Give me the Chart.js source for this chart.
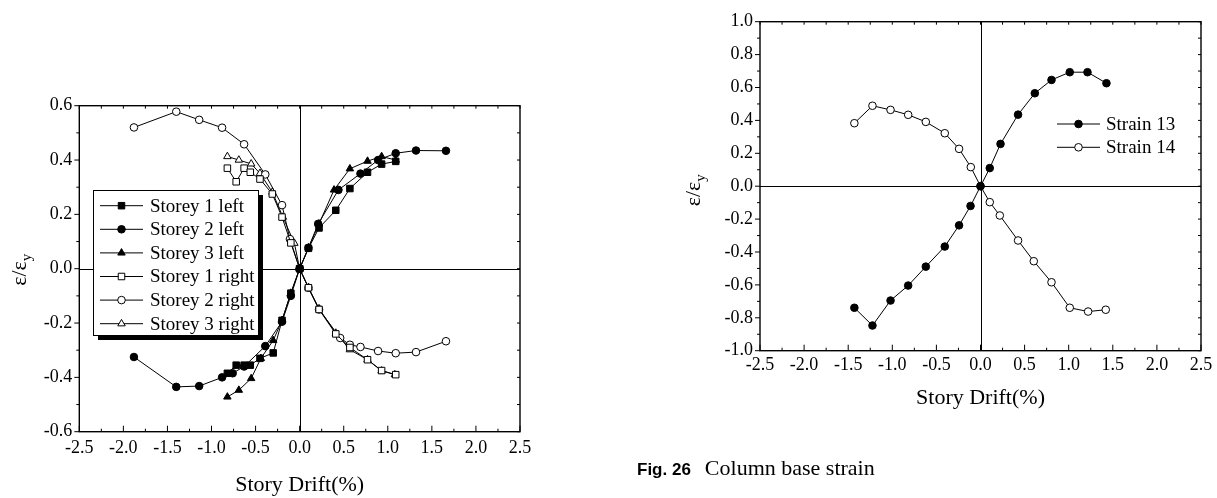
<!DOCTYPE html>
<html>
<head>
<meta charset="utf-8">
<script src="https://cdn.jsdelivr.net/npm/chart.js@4.4.1/dist/chart.umd.min.js"></script>
<style>
    body { margin: 0; background: #fff; width: 1217px; height: 498px; overflow: hidden; position: relative; }
    #storeyWrap { position: absolute; left: 0; top: 0; }
    #baseWrap { position: absolute; left: 640px; top: 0; }
    .legenda-fig { position: absolute; left: 637px; top: 456px; line-height: 24px; white-space: nowrap; color: #000; }
    .legenda-fig b { font-family: "Liberation Sans", sans-serif; font-size: 17px; margin-right: 14px; }
    .legenda-fig span { font-family: "Liberation Serif", serif; font-size: 22px; }
</style>
</head>
<body>
<div id="storeyWrap"><canvas id="graficoStorey" width="560" height="498"></canvas></div>
<div id="baseWrap"><canvas id="graficoBase" width="577" height="498"></canvas></div>
<div class="legenda-fig"><b>Fig. 26</b><span>Column base strain</span></div>

<script>
// ==========================================
// Deformação relativa por pavimento e na base dos pilares
// ==========================================
const SERIF = '"Liberation Serif", "Times New Roman", serif';

// ---- gráfico da esquerda: pavimentos ----
const storey1LeftX  = [-0.82, -0.72, -0.63, -0.56, -0.45, -0.30, -0.20, -0.10, 0, 0.10, 0.22, 0.41, 0.57, 0.77, 0.93, 1.09];
const storey1LeftY  = [-0.385, -0.355, -0.355, -0.355, -0.33, -0.31, -0.19, -0.09, 0, 0.075, 0.15, 0.215, 0.295, 0.355, 0.385, 0.395];
const storey2LeftX  = [-1.88, -1.40, -1.14, -0.88, -0.76, -0.63, -0.39, -0.20, -0.10, 0, 0.10, 0.21, 0.44, 0.69, 0.89, 1.09, 1.32, 1.66];
const storey2LeftY  = [-0.325, -0.435, -0.432, -0.40, -0.385, -0.36, -0.285, -0.195, -0.10, 0, 0.077, 0.165, 0.29, 0.35, 0.40, 0.425, 0.435, 0.434];
const storey3LeftX  = [-0.82, -0.69, -0.55, -0.44, -0.30, -0.20, -0.10, 0, 0.10, 0.22, 0.39, 0.57, 0.77, 0.93, 1.09];
const storey3LeftY  = [-0.472, -0.447, -0.404, -0.33, -0.264, -0.19, -0.09, 0, 0.077, 0.165, 0.29, 0.368, 0.396, 0.413, 0.40];
const storey1RightX = [-0.82, -0.72, -0.63, -0.56, -0.45, -0.31, -0.20, -0.10, 0, 0.10, 0.22, 0.41, 0.57, 0.77, 0.93, 1.09];
const storey1RightY = [0.37, 0.32, 0.37, 0.355, 0.33, 0.275, 0.19, 0.095, 0, -0.07, -0.15, -0.24, -0.29, -0.335, -0.375, -0.39];
const storey2RightX = [-1.88, -1.40, -1.14, -0.88, -0.63, -0.39, -0.20, -0.11, 0, 0.10, 0.22, 0.46, 0.57, 0.69, 0.89, 1.09, 1.32, 1.66];
const storey2RightY = [0.52, 0.578, 0.548, 0.519, 0.458, 0.347, 0.234, 0.109, 0, -0.07, -0.15, -0.255, -0.28, -0.288, -0.303, -0.311, -0.307, -0.267];
const storey3RightX = [-0.82, -0.69, -0.55, -0.45, -0.31, -0.19, -0.06, 0, 0.10, 0.22, 0.41, 0.57, 0.77, 0.93, 1.08];
const storey3RightY = [0.413, 0.40, 0.386, 0.351, 0.282, 0.19, 0.094, 0, -0.07, -0.147, -0.237, -0.298, -0.335, -0.376, -0.39];

// ---- gráfico da direita: base dos pilares ----
const strain13X = [-1.43, -1.225, -1.02, -0.82, -0.62, -0.405, -0.243, -0.113, 0, 0.105, 0.227, 0.426, 0.616, 0.805, 1.012, 1.213, 1.428];
const strain13Y = [-0.739, -0.847, -0.695, -0.604, -0.489, -0.367, -0.238, -0.12, 0, 0.11, 0.257, 0.435, 0.565, 0.646, 0.693, 0.693, 0.626];
const strain14X = [-1.43, -1.225, -1.02, -0.82, -0.62, -0.405, -0.243, -0.11, 0, 0.105, 0.219, 0.426, 0.604, 0.805, 1.012, 1.22, 1.42];
const strain14Y = [0.383, 0.489, 0.464, 0.434, 0.391, 0.322, 0.227, 0.116, 0, -0.097, -0.178, -0.33, -0.456, -0.584, -0.739, -0.762, -0.751];

const driftTicks = { min: -2.5, max: 2.5, step: 0.5 };
const storeyTicks = { min: -0.6, max: 0.6, step: 0.2 };
const baseTicks = { min: -1.0, max: 1.0, step: 0.2 };

function pares(xs, ys) {
    return xs.map((x, i) => ({ x: x, y: ys[i] }));
}

function serie(label, xs, ys, estilo, cheio, raio) {
    return {
        label: label,
        data: pares(xs, ys),
        showLine: true, tension: 0,
        borderColor: '#000', borderWidth: 1,
        pointStyle: estilo, pointRadius: raio,
        pointBackgroundColor: cheio ? '#000' : '#fff',
        pointBorderColor: '#000', pointBorderWidth: 1
    };
}

function formatarTick(v) {
    return (Math.abs(v) < 1e-9 ? 0 : v).toFixed(1);
}

// moldura, eixos do zero, marcas de escala e título do eixo y (ε/εy)
const molduraPlugin = {
    id: 'moldura',
    beforeDatasetsDraw(chart) {
        const { ctx, chartArea: a, scales: { x, y } } = chart;
        const x0 = Math.round(x.getPixelForValue(0)) + 0.5;
        const y0 = Math.round(y.getPixelForValue(0)) + 0.5;
        ctx.save();
        ctx.strokeStyle = '#000'; ctx.lineWidth = 1;
        ctx.beginPath();
        ctx.moveTo(x0, a.top); ctx.lineTo(x0, a.bottom);
        ctx.moveTo(a.left, y0); ctx.lineTo(a.right, y0);
        ctx.stroke();
        ctx.restore();
    },
    afterDatasetsDraw(chart, args, o) {
        const { ctx, chartArea: a, scales: { x, y } } = chart;
        ctx.save();
        ctx.strokeStyle = '#000';
        ctx.lineWidth = 1.4;
        ctx.strokeRect(a.left, a.top, a.right - a.left, a.bottom - a.top);
        ctx.lineWidth = 1;
        ctx.beginPath();
        const nx = Math.round((x.max - x.min) / o.xMinor);
        for (let i = 0; i <= nx; i++) {
            const v = x.min + i * o.xMinor;
            const px = x.getPixelForValue(v);
            const maior = i % Math.round(o.xMajor / o.xMinor) === 0;
            ctx.moveTo(px, a.bottom); ctx.lineTo(px, a.bottom - (maior ? 6 : 3));
            ctx.moveTo(px, a.top); ctx.lineTo(px, a.top + 3);
        }
        const ny = Math.round((y.max - y.min) / o.yMinor);
        for (let i = 0; i <= ny; i++) {
            const v = y.min + i * o.yMinor;
            const py = y.getPixelForValue(v);
            const maior = i % Math.round(o.yMajor / o.yMinor) === 0;
            ctx.moveTo(a.left, py); ctx.lineTo(a.left - (maior ? 5 : 3), py);
            ctx.moveTo(a.right, py); ctx.lineTo(a.right - 3, py);
        }
        ctx.stroke();
        ctx.restore();
    },
    afterDraw(chart, args, o) {
        const { ctx, chartArea: a } = chart;
        ctx.save();
        ctx.translate(o.tituloX, (a.top + a.bottom) / 2 + o.tituloDy);
        ctx.rotate(-Math.PI / 2);
        ctx.fillStyle = '#000';
        ctx.textAlign = 'left'; ctx.textBaseline = 'alphabetic';
        ctx.font = '22px ' + SERIF;
        const wPrincipal = ctx.measureText('ε/ε').width;
        ctx.font = '15px ' + SERIF;
        const wSub = ctx.measureText('y').width;
        const inicio = -(wPrincipal + wSub) / 2;
        ctx.font = '22px ' + SERIF;
        ctx.fillText('ε/ε', inicio, 5);
        ctx.font = '15px ' + SERIF;
        ctx.fillText('y', inicio + wPrincipal, 10);
        ctx.restore();
    }
};

// legenda desenhada dentro da área do gráfico (com caixa e sombra opcional)
const legendaPlugin = {
    id: 'legendaCaixa',
    afterDatasetsDraw(chart, args, o) {
        const ctx = chart.ctx;
        ctx.save();
        if (o.caixa) {
            ctx.fillStyle = '#000';
            ctx.fillRect(o.left + o.sombra, o.top + o.sombra, o.width, o.height);
            ctx.fillStyle = '#fff';
            ctx.fillRect(o.left, o.top, o.width, o.height);
            ctx.strokeStyle = '#000'; ctx.lineWidth = 1;
            ctx.strokeRect(o.left + 0.5, o.top + 0.5, o.width, o.height);
        }
        chart.data.datasets.forEach((ds, i) => {
            const cy = o.linhaTopo + i * o.espaco;
            ctx.strokeStyle = '#000'; ctx.lineWidth = 1;
            ctx.beginPath();
            ctx.moveTo(o.linhaDe, cy); ctx.lineTo(o.linhaAte, cy);
            ctx.stroke();
            ctx.fillStyle = ds.pointBackgroundColor;
            Chart.helpers.drawPoint(ctx, { pointStyle: ds.pointStyle, radius: ds.pointRadius, borderWidth: 1, rotation: 0 },
                (o.linhaDe + o.linhaAte) / 2, cy);
            ctx.fillStyle = '#000';
            ctx.font = '19px ' + SERIF;
            ctx.textAlign = 'left'; ctx.textBaseline = 'middle';
            ctx.fillText(ds.label, o.textoX, cy + 1);
        });
        ctx.restore();
    }
};

function escalas(faixaX, faixaY, larguraY, alturaX, padX, padY) {
    const fonteTick = { family: SERIF, size: 18 };
    return {
        x: {
            type: 'linear', min: faixaX.min, max: faixaX.max,
            ticks: { stepSize: faixaX.step, padding: padX, color: '#000', font: fonteTick,
                     callback: formatarTick, autoSkip: false, maxRotation: 0 },
            grid: { display: false, drawTicks: false },
            border: { display: false },
            title: { display: true, text: 'Story Drift(%)', color: '#000',
                     font: { family: SERIF, size: 22 }, padding: 0 },
            afterFit(s) { s.height = alturaX; }
        },
        y: {
            type: 'linear', min: faixaY.min, max: faixaY.max,
            ticks: { stepSize: faixaY.step, padding: padY, color: '#000', font: fonteTick,
                     callback: formatarTick, autoSkip: false },
            grid: { display: false, drawTicks: false },
            border: { display: false },
            afterFit(s) { s.width = larguraY; }
        }
    };
}

function desenharStorey() {
    const ctx = document.getElementById('graficoStorey').getContext('2d');
    new Chart(ctx, {
        type: 'scatter',
        data: {
            datasets: [
                serie('Storey 1 left', storey1LeftX, storey1LeftY, 'rect', true, 4.6),
                serie('Storey 2 left', storey2LeftX, storey2LeftY, 'circle', true, 3.8),
                serie('Storey 3 left', storey3LeftX, storey3LeftY, 'triangle', true, 4.3),
                serie('Storey 1 right', storey1RightX, storey1RightY, 'rect', false, 4.6),
                serie('Storey 2 right', storey2RightX, storey2RightY, 'circle', false, 3.8),
                serie('Storey 3 right', storey3RightX, storey3RightY, 'triangle', false, 4.3)
            ]
        },
        options: {
            responsive: false, animation: false, devicePixelRatio: 1,
            layout: { padding: { left: 0, top: 105.7, right: 40, bottom: 0 } },
            scales: escalas(driftTicks, storeyTicks, 79.3, 66.3, 6, 7),
            plugins: {
                legend: { display: false }, tooltip: { enabled: false },
                moldura: { xMajor: 0.5, xMinor: 0.25, yMajor: 0.2, yMinor: 0.1, tituloX: 21, tituloDy: 1 },
                legendaCaixa: { caixa: true, sombra: 5, left: 93, top: 190, width: 165, height: 145,
                                linhaDe: 100, linhaAte: 143, textoX: 150, linhaTopo: 205.7, espaco: 23.6 }
            }
        },
        plugins: [molduraPlugin, legendaPlugin]
    });
}

function desenharBase() {
    const ctx = document.getElementById('graficoBase').getContext('2d');
    new Chart(ctx, {
        type: 'scatter',
        data: {
            datasets: [
                serie('Strain 13', strain13X, strain13Y, 'circle', true, 3.8),
                serie('Strain 14', strain14X, strain14Y, 'circle', false, 3.8)
            ]
        },
        options: {
            responsive: false, animation: false, devicePixelRatio: 1,
            layout: { padding: { left: 0, top: 21.7, right: 16, bottom: 86.5 } },
            scales: escalas(driftTicks, baseTicks, 120, 60.8, 3.5, 7),
            plugins: {
                legend: { display: false }, tooltip: { enabled: false },
                moldura: { xMajor: 0.5, xMinor: 0.25, yMajor: 0.2, yMinor: 0.1, tituloX: 55, tituloDy: 4 },
                legendaCaixa: { caixa: false, linhaDe: 417, linhaAte: 460, textoX: 466, linhaTopo: 124, espaco: 23.3 }
            }
        },
        plugins: [molduraPlugin, legendaPlugin]
    });
}

window.onload = function() {
    desenharStorey();
    desenharBase();
};
</script>
</body>
</html>
